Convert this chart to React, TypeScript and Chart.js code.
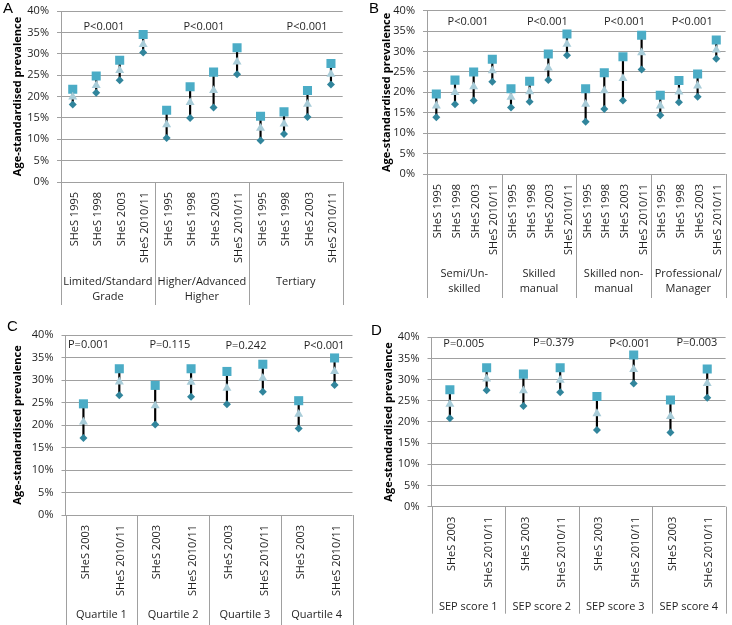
import React, { useEffect, useRef } from "react";
import { Chart, registerables } from "chart.js";
Chart.register(...registerables);

// ---------- DATA ----------
const years4 = ["SHeS 1995", "SHeS 1998", "SHeS 2003", "SHeS 2010/11"];
const years2 = ["SHeS 2003", "SHeS 2010/11"];

const catsA = [...years4, ...years4, ...years4];
const groupsA = [["Limited/Standard", "Grade"], ["Higher/Advanced", "Higher"], ["Tertiary"]];
const pA = ["P<0.001", "P<0.001", "P<0.001"];
const highA = [21.7, 24.8, 28.5, 34.5, 16.8, 22.3, 25.7, 31.4, 15.4, 16.4, 21.4, 27.7];
const midA = [19.9, 22.6, 26.1, 32.2, 13.4, 18.6, 21.4, 28.1, 12.6, 13.6, 18.2, 25.2];
const lowA = [18.1, 20.9, 23.8, 30.3, 10.3, 15.0, 17.4, 25.2, 9.7, 11.2, 15.2, 22.8];

const catsB = [...years4, ...years4, ...years4, ...years4];
const groupsB = [["Semi/Un-", "skilled"], ["Skilled", "manual"], ["Skilled non-", "manual"], ["Professional/", "Manager"]];
const pB = ["P<0.001", "P<0.001", "P<0.001", "P<0.001"];
const highB = [19.6, 23.0, 25.0, 28.1, 20.9, 22.7, 29.4, 34.3, 20.9, 24.8, 28.7, 34.0, 19.3, 22.9, 24.5, 32.8];
const midB = [16.7, 20.0, 21.4, 25.3, 18.8, 20.2, 26.0, 31.8, 17.1, 20.4, 23.4, 29.7, 16.7, 20.1, 21.6, 30.4];
const lowB = [13.9, 17.1, 18.0, 22.6, 16.3, 17.7, 23.0, 29.1, 12.8, 15.9, 18.0, 25.6, 14.4, 17.6, 18.9, 28.2];

const catsC = [...years2, ...years2, ...years2, ...years2];
const groupsC = [["Quartile 1"], ["Quartile 2"], ["Quartile 3"], ["Quartile 4"]];
const pC = ["P=0.001", "P=0.115", "P=0.242", "P<0.001"];
const highC = [24.7, 32.5, 28.8, 32.5, 31.9, 33.5, 25.4, 34.9];
const midC = [20.7, 29.6, 24.3, 29.5, 28.2, 30.4, 22.4, 31.9];
const lowC = [17.1, 26.6, 20.1, 26.3, 24.6, 27.4, 19.2, 28.9];

const catsD = [...years2, ...years2, ...years2, ...years2];
const groupsD = [["SEP score 1"], ["SEP score 2"], ["SEP score 3"], ["SEP score 4"]];
const pD = ["P=0.005", "P=0.379", "P<0.001", "P=0.003"];
const highD = [27.6, 32.8, 31.3, 32.8, 26.0, 35.8, 25.2, 32.5];
const midD = [24.2, 30.2, 27.4, 29.9, 22.0, 32.4, 21.3, 29.1];
const lowD = [20.9, 27.5, 23.8, 27.0, 18.1, 29.1, 17.5, 25.7];

const yTicks = [0, 5, 10, 15, 20, 25, 30, 35, 40];

// ---------- STYLE ----------
const FONT = "'Open Sans'";
const TEXT = "#1f1f1f";
const GRID = "#A0A0A0";
const SQ = "#4BACC6";
const TRI = "#A8CCD8";
const DIA = "#31859C";

const panels = [
  {
    key: "A", left: 0, top: 0, w: 366, h: 312,
    area: { left: 61, right: 342.7, top: 11, bottom: 182 },
    cats: catsA, groups: groupsA, size: 4, high: highA, mid: midA, low: lowA,
    p: pA, pPos: [1.33, 5.59, 9.98], pY: [36.3, 36.3, 36.3],
    titleCenter: 18, letter: [3, 8.5], groupY: 100, sepLen: 123,
  },
  {
    key: "B", left: 366, top: 0, w: 366, h: 312,
    area: { left: 61, right: 362, top: 10.7, bottom: 174 },
    cats: catsB, groups: groupsB, size: 4, high: highB, mid: midB, low: lowB,
    p: pB, pPos: [1.7, 5.95, 10.08, 13.71], pY: [37.2, 37.2, 37.2, 37.2],
    titleCenter: 21, letter: [3, 8.5], groupY: 100, sepLen: 124,
  },
  {
    key: "C", left: 0, top: 312, w: 366, h: 313,
    area: { left: 65.5, right: 352.5, top: 23, bottom: 203 },
    cats: catsC, groups: groupsC, size: 2, high: highC, mid: midC, low: lowC,
    p: pC, pPos: [0.14, 2.41, 4.53, 6.71], pY: [37.9, 37.9, 37.6, 37.6],
    titleCenter: 18, letter: [7, 14.5], groupY: 100, sepLen: 110,
  },
  {
    key: "D", left: 366, top: 312, w: 366, h: 313,
    area: { left: 65.5, right: 364, top: 25.3, bottom: 194.7 },
    cats: catsD, groups: groupsD, size: 2, high: highD, mid: midD, low: lowD,
    p: pD, pPos: [0.38, 2.82, 4.89, 6.72], pY: [38.4, 38.6, 38.4, 38.6],
    titleCenter: 22.5, letter: [5, 18.5], groupY: 100.5, sepLen: 107,
  },
];

const decorPlugin = {
  id: "decor",
  afterDraw(chart: any, _args: any, opts: any) {
    const { ctx, chartArea } = chart;
    const xs = chart.scales.x;
    const ys = chart.scales.y;
    ctx.save();
    // group separators
    ctx.strokeStyle = GRID;
    ctx.lineWidth = 1;
    const n = opts.groups.length;
    for (let g = 0; g <= n; g++) {
      const px = Math.round(xs.getPixelForValue(g * opts.size - 0.5)) + 0.5;
      ctx.beginPath();
      ctx.moveTo(px, chartArea.bottom);
      ctx.lineTo(px, chartArea.bottom + opts.sepLen);
      ctx.stroke();
    }
    // group labels
    ctx.fillStyle = TEXT;
    ctx.font = `11px ${FONT}`;
    ctx.textAlign = "center";
    ctx.textBaseline = "middle";
    opts.groups.forEach((lines: string[], g: number) => {
      const cx = xs.getPixelForValue(g * opts.size + (opts.size - 1) / 2);
      lines.forEach((t: string, i: number) => {
        ctx.fillText(t, cx, chartArea.bottom + opts.groupY + i * 15);
      });
    });
    // p-value labels
    opts.p.forEach((t: string, i: number) => {
      ctx.fillText(t, xs.getPixelForValue(opts.pPos[i]), ys.getPixelForValue(opts.pY[i]));
    });
    // panel letter
    ctx.fillStyle = "#000";
    ctx.font = "15px 'Liberation Sans'";
    ctx.textAlign = "left";
    ctx.fillText(opts.letter, opts.letterPos[0], opts.letterPos[1]);
    ctx.restore();
  },
};

function Panel({ cfg }: { cfg: any }) {
  const ref = useRef<HTMLCanvasElement>(null);
  useEffect(() => {
    const lineH = 11 * 1.2;
    const chart = new Chart(ref.current as HTMLCanvasElement, {
      type: "bar",
      data: {
        labels: cfg.cats,
        datasets: [
          {
            type: "line", label: "mid", data: cfg.mid, showLine: false,
            pointStyle: "triangle", pointRadius: 5.2, pointBorderWidth: 0,
            backgroundColor: TRI, borderColor: TRI, order: 1,
          },
          {
            type: "line", label: "high", data: cfg.high, showLine: false,
            pointStyle: "rect", pointRadius: 6.4, pointBorderWidth: 0,
            backgroundColor: SQ, borderColor: SQ, order: 2,
          },
          {
            type: "line", label: "low", data: cfg.low, showLine: false,
            pointStyle: "rectRot", pointRadius: 4, pointBorderWidth: 0,
            backgroundColor: DIA, borderColor: DIA, order: 3,
          },
          {
            type: "bar", label: "range",
            data: cfg.low.map((l: number, i: number) => [l, cfg.high[i]]),
            backgroundColor: "#000", barThickness: 1.5, order: 10,
          },
        ] as any,
      },
      options: {
        animation: false,
        responsive: false,
        events: [],
        layout: {
          padding: { left: 0, top: cfg.area.top, right: cfg.w - cfg.area.right, bottom: 0 },
        },
        plugins: {
          legend: { display: false },
          tooltip: { enabled: false },
          decor: {
            groups: cfg.groups, size: cfg.size, p: cfg.p, pPos: cfg.pPos, pY: cfg.pY,
            letter: cfg.key, letterPos: cfg.letter, groupY: cfg.groupY, sepLen: cfg.sepLen,
          },
        } as any,
        scales: {
          x: {
            type: "category",
            offset: true,
            grid: { display: false, drawTicks: false },
            border: { display: false },
            ticks: {
              autoSkip: false, maxRotation: 90, minRotation: 90, padding: 10, labelOffset: 2,
              color: TEXT, font: { family: FONT, size: 11 },
            },
            afterFit: (s: any) => {
              s.height = cfg.h - cfg.area.bottom;
              s.paddingLeft = 0;
              s.paddingRight = 0;
            },
          },
          y: {
            min: 0, max: 40,
            afterBuildTicks: (s: any) => {
              s.ticks = yTicks.map((v) => ({ value: v }));
            },
            ticks: {
              callback: (v: any) => v + "%",
              color: TEXT, font: { family: FONT, size: 11 }, padding: 8,
            },
            grid: { color: GRID, tickLength: 4, lineWidth: 1 },
            border: { color: GRID },
            title: {
              display: true, text: "Age-standardised prevalence", color: "#000",
              font: { family: FONT, size: 11, weight: "bold" },
              padding: { top: cfg.titleCenter - lineH / 2, bottom: 0 },
            },
            afterFit: (s: any) => {
              s.width = cfg.area.left;
              s.paddingTop = 0;
              s.paddingBottom = 0;
            },
          },
        },
      } as any,
      plugins: [decorPlugin],
    });
    return () => chart.destroy();
  }, [cfg]);
  return (
    <canvas
      ref={ref}
      width={cfg.w}
      height={cfg.h}
      style={{ position: "absolute", left: cfg.left, top: cfg.top, width: cfg.w, height: cfg.h }}
    />
  );
}

export default function App() {
  return (
    <div style={{ position: "absolute", left: 0, top: 0, width: 732, height: 625, background: "#fff" }}>
      {panels.map((p) => (
        <Panel key={p.key} cfg={p} />
      ))}
    </div>
  );
}
